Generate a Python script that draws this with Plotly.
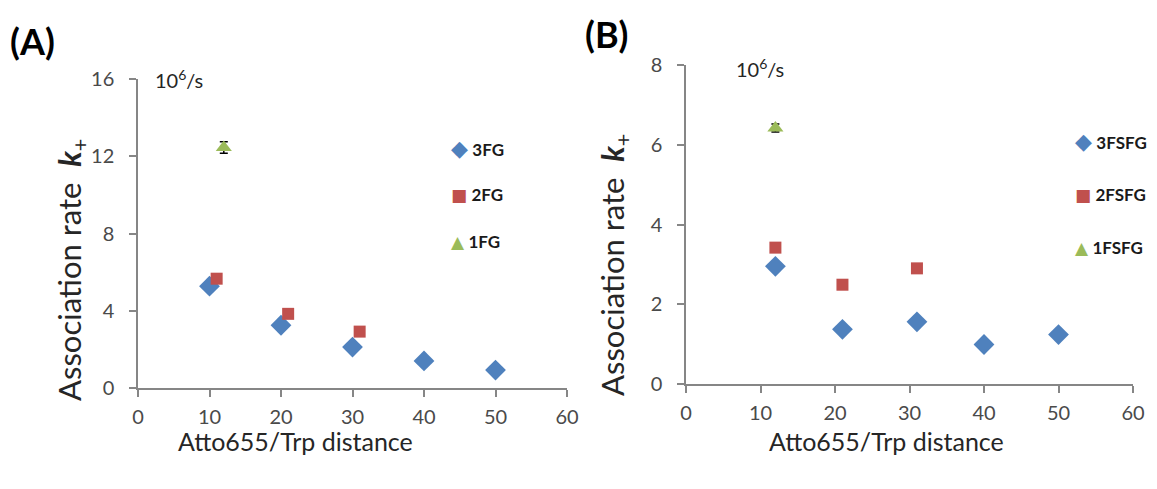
import plotly.graph_objects as go

# ---- Data ----
# Panel A
a3_x = [10, 20, 30, 40, 50]
a3_y = [5.27, 3.25, 2.12, 1.40, 0.93]
a2_x = [11, 21, 31]
a2_y = [5.66, 3.84, 2.92]
a1_x = [12]
a1_y = [12.45]
a1_err = [0.3]
# Panel B
b3_x = [12, 21, 31, 40, 50]
b3_y = [2.95, 1.37, 1.56, 0.99, 1.24]
b2_x = [12, 21, 31]
b2_y = [3.42, 2.49, 2.90]
b1_x = [12]
b1_y = [6.42]
b1_err = [0.1]

names_a = ["3FG", "2FG", "1FG"]
names_b = ["3FSFG", "2FSFG", "1FSFG"]
x_ticks = [0, 10, 20, 30, 40, 50, 60]
ya_ticks = [0, 4, 8, 12, 16]
yb_ticks = [0, 2, 4, 6, 8]

BLUE = "#4F81BD"
RED = "#C0504D"
GREEN = "#9BBB59"
FONT = "Lato"
W, H = 1157, 489

fig = go.Figure()

def add_panel(xa, ya, names, s3, s2, s1, err):
    (x3, y3), (x2, y2), (x1, y1) = s3, s2, s1
    fig.add_trace(go.Scatter(x=x3, y=y3, mode="markers", name=names[0],
                             marker=dict(symbol="diamond", size=16, color=BLUE),
                             xaxis=xa, yaxis=ya))
    fig.add_trace(go.Scatter(x=x2, y=y2, mode="markers", name=names[1],
                             marker=dict(symbol="square", size=12, color=RED),
                             xaxis=xa, yaxis=ya))
    fig.add_trace(go.Scatter(x=x1, y=y1, mode="markers", name=names[2],
                             marker=dict(symbol="triangle-up", size=14, color=GREEN),
                             error_y=dict(type="data", array=err, symmetric=True,
                                          color="black", thickness=1.5, width=4),
                             xaxis=xa, yaxis=ya))

add_panel("x", "y", names_a, (a3_x, a3_y), (a2_x, a2_y), (a1_x, a1_y), a1_err)
add_panel("x2", "y2", names_b, (b3_x, b3_y), (b2_x, b2_y), (b1_x, b1_y), b1_err)

axis_common = dict(showline=True, linecolor="#868686", linewidth=1.5, ticks="outside",
                   ticklen=7, tickcolor="#868686", tickwidth=1.5, showgrid=False,
                   zeroline=False, automargin=False,
                   tickfont=dict(family=FONT, size=20, color="#4a4a4a"))

def px_x(p):
    return p / W

def px_y(p):
    return 1 - p / H

fig.update_layout(
    width=W, height=H, margin=dict(l=0, r=0, t=0, b=0, pad=0),
    paper_bgcolor="white", plot_bgcolor="white",
    font=dict(family=FONT, color="#404040"),
    showlegend=False,
    xaxis=dict(domain=[px_x(138), px_x(567)], range=[0, 60], tickvals=x_ticks, anchor="y",
               ticklabelstandoff=3, **axis_common),
    yaxis=dict(domain=[px_y(388), px_y(79)], range=[0, 16], tickvals=ya_ticks, anchor="x",
               ticklabelstandoff=11, **axis_common),
    xaxis2=dict(domain=[px_x(686), px_x(1133)], range=[0, 60], tickvals=x_ticks, anchor="y2",
                ticklabelstandoff=3, **axis_common),
    yaxis2=dict(domain=[px_y(384), px_y(65)], range=[0, 8], tickvals=yb_ticks, anchor="x2",
                ticklabelstandoff=11, **axis_common),
)

def legend_entries(names, mx, ys):
    syms = [("◆", BLUE, 22), ("■", RED, 17), ("▲", GREEN, 17)]
    out = []
    for (g, c, s), n, yy in zip(syms, names, ys):
        out.append(dict(text=f"<span style='color:{c};font-size:{s}px;font-family:DejaVu Sans'>{g}</span> <b>{n}</b>",
                        x=px_x(mx), y=px_y(yy), xanchor="left", yanchor="middle",
                        font=dict(size=17, color="#1a1a1a")))
    return out

annos = [
    dict(text="<b>(A)</b>", x=px_x(8), y=px_y(41), xanchor="left", yanchor="middle",
         font=dict(size=36, color="black")),
    dict(text="<b>(B)</b>", x=px_x(583), y=px_y(34), xanchor="left", yanchor="middle",
         font=dict(size=36, color="black")),
    dict(text="10<sup>6</sup>/s", x=px_x(153), y=px_y(79), xanchor="left", yanchor="middle",
         font=dict(size=20, color="#262626")),
    dict(text="10<sup>6</sup>/s", x=px_x(734), y=px_y(68), xanchor="left", yanchor="middle",
         font=dict(size=20, color="#262626")),
    dict(text="Atto655/Trp distance", x=px_x(295), y=px_y(441), xanchor="center", yanchor="middle",
         font=dict(size=25, color="#262626")),
    dict(text="Atto655/Trp distance", x=px_x(886), y=px_y(441), xanchor="center", yanchor="middle",
         font=dict(size=25, color="#262626")),
    dict(text="Association rate  <b><i>k</i></b><sub>+</sub>", x=px_x(71), y=px_y(270),
         xanchor="center", yanchor="middle", textangle=-90,
         font=dict(size=31, color="#262626")),
    dict(text="Association rate  <b><i>k</i></b><sub>+</sub>", x=px_x(614), y=px_y(265),
         xanchor="center", yanchor="middle", textangle=-90,
         font=dict(size=31, color="#262626")),
]
annos += legend_entries(names_a, 449, [148, 195, 242])
annos += legend_entries(names_b, 1073, [141, 194, 247])
for a in annos:
    a.update(xref="paper", yref="paper", showarrow=False)
    a["font"]["family"] = FONT
fig.update_layout(annotations=annos)

fig.write_html("out.html", post_script="document.body.style.margin='0';")
